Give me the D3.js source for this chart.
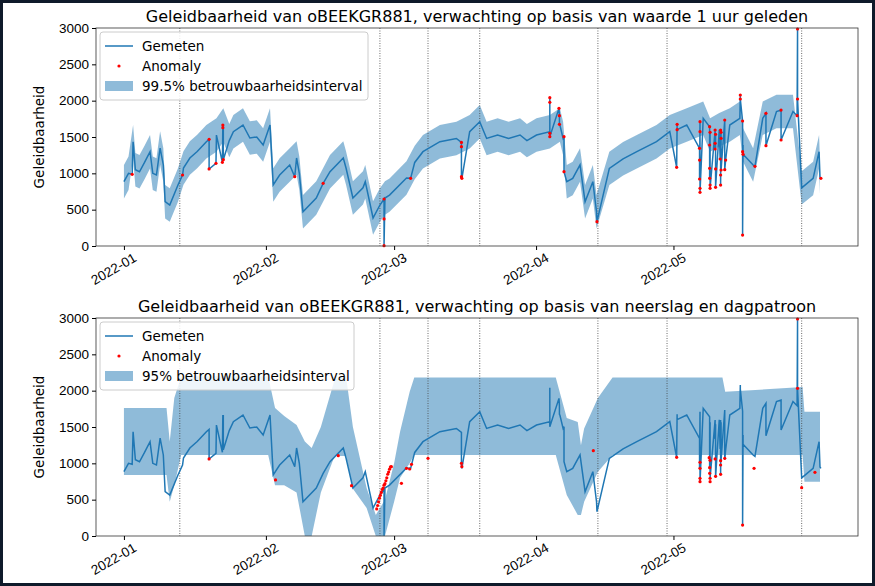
<!DOCTYPE html>
<html>
<head>
<meta charset="utf-8">
<script src="https://cdn.jsdelivr.net/npm/d3@7"></script>
<style>
  body { margin: 0; background: #0f1a2a; }
  svg { display: block; font-family: "DejaVu Sans", sans-serif; }
</style>
</head>
<body>
<svg id="chart" width="875" height="586"></svg>
<script>
// days since 2022-01-01, measured conductivity
const measured = [
  [0,885],[1,1000],[2,1435],[2.5,1050],[3.4,1022],[4.5,1150],[5.7,1298],[6.3,1000],[7.1,977],[7.9,1348],
  [8.6,1115],[9,610],[10,564],[11.8,840],[13,1073],[14.4,1211],[16,1300],[18,1435],[20.2,1527],[21.7,1665],
  [23,1450],[23.9,1573],[26,1665],[27.5,1486],[29,1500],[30.4,1390],[31.9,1665],[32.6,840],[34,977],[36.2,1115],
  [37.7,1211],[38.3,1000],[39.1,472],[42,660],[45,1022],[47.9,1211],[48.5,1073],[50,660],[52.2,800],[52.7,885],
  [54.4,385],[55.9,564],[57,660],[58,700],[61.7,935],[63.5,1150],[65.3,1298],[69,1435],[72.6,1480],[75.5,1573],
  [77.7,1710],[79.2,1480],[81.6,1527],[84,1480],[86.5,1527],[88,1450],[90.1,1527],[93,1573],[95.2,1665],[95.9,1480],
  [96.7,885],[98,930],[99.6,1115],[100.7,610],[102.4,885],[103.2,472],[106,1068],[109,1200],[112,1298],[116.3,1435],
  [119.2,1573],[122.9,1665],[126.5,1757],[128,1527],[130,1600],[132.3,1665],[134.5,1757],[135.2,1390],[137.4,1115],
  [139.5,1757],[142.5,1850],[146.1,1850],[148,800],[150.5,930],[151.8,1298],[152,950]
];

const anomaliesTop = [
  [1.8,987],[12.8,977],[18.6,1468],[18.6,1060],[20.1,1138],[21.5,1151],[21.6,1665],[21.6,1628],[21.7,1188],
  [37.3,954],[43.5,862],[56.8,647],[56.8,372],[56.8,4],[62.6,931],[73.7,1426],[73.7,1367],[73.7,954],[73.8,931],
  [93.0,2041],[93.0,1977],[93.0,1550],[93.0,1504],[95.0,1894],[95.1,1793],[95.1,1674],[96.1,1504],[96.1,1023],
  [103.3,335],[120.8,1674],[120.8,1601],[120.7,1083],[125.8,1711],[125.8,1573],[125.7,1344],[125.7,1183],
  [125.7,922],[125.8,794],[125.8,739],[127.9,1642],[128.0,1564],[127.9,1390],[127.9,1069],[127.9,931],
  [128.0,839],[128.0,794],[129.1,1596],[129.2,1537],[129.1,1413],[129.1,1335],[129.2,1060],[129.2,807],
  [130.3,1596],[130.4,1564],[130.4,1482],[130.2,1197],[130.4,1046],[130.3,977],[130.3,839],[131.2,1734],
  [131.4,1183],[131.2,1050],[134.6,2078],[134.6,2023],[135.1,1720],[135.1,1298],[135.2,1262],[135.1,151],
  [137.8,1096],[140.2,1826],[140.2,1380],[143.5,1871],[143.5,1459],[147.1,2986],[147.1,2023],[147.0,1793],
  [152.2,931]
];

const anomaliesBottom = [
  [18.6,1060],[33.1,771],[46.8,1105],[49.7,692],
  [55.2,372],[55.4,420],[55.6,470],[55.8,520],[56.0,560],[56.2,600],[56.4,640],[56.6,660],[56.8,700],
  [57.0,720],[57.2,760],[57.4,800],[57.6,850],[57.8,880],[58.0,920],[58.2,950],[58.4,954],
  [60.6,725],[61.7,931],[62.4,922],[62.8,986],[66.4,1069],[73.7,1000],[73.8,954],
  [102.5,1174],[120.7,1083],[125.8,1014],[125.8,931],[125.8,794],[125.8,748],[127.8,1078],[128.0,1041],
  [127.9,940],[127.9,862],[128.0,794],[128.0,748],[129.1,1060],[129.2,821],[130.3,1037],[130.3,977],
  [130.3,849],[131.2,1069],[135.1,151],[137.6,931],[147.1,2986],[147.1,2032],[148.0,665],[150.9,876]
];

// 95% interval of the rain/day-pattern model: [day, lower, upper]
const bandBottom = [
  [0,840,1760],[9.3,840,1760],[10,472,1300],[11,700,1900],[12.5,1115,2200],[31.5,1115,2200],
  [33,700,1760],[35,700,1650],[37.7,600,1527],[39.5,0,1300],[41,0,1210],[43,600,1500],[46,1100,2150],
  [48.5,1100,2200],[50,650,1500],[53,385,660],[55,0,290],[57,0,500],[59,470,1000],[60.3,800,1435],
  [62.4,1000,1985],[63.4,1115,2180],[94.3,1115,2180],[96.7,564,1624],[99.1,290,1570],[99.8,290,1250],
  [100.5,472,1480],[103.5,885,1900],[106.7,1115,2180],[130.7,1115,2180],[131.3,1115,1985],
  [148.2,1115,2050],[148.6,747,1710],[152,747,1710]
];

const changeDays = [12.2, 55.9, 66.4, 77.7, 103.5, 118.6, 148];
const yTicks = [0, 500, 1000, 1500, 2000, 2500, 3000];
const topHalfWidth = 230;

const t0 = Date.UTC(2022, 0, 1);
const toDate = d => new Date(t0 + d * 864e5);

const svg = d3.select("#chart");
svg.append("rect").attr("x", 3).attr("y", 3).attr("width", 869).attr("height", 580).attr("fill", "#fff");

const x = d3.scaleUtc().domain([toDate(-6.1), toDate(160.3)]).range([96, 858]);
const blue = "#1f77b4";

function panel(top, title, legendBand, lineData, band, anomalies, legendW) {
  const y = d3.scaleLinear().domain([0, 3000]).range([top + 218, top]);
  const g = svg.append("g");

  g.append("path").datum(band)
    .attr("fill", blue).attr("fill-opacity", 0.5)
    .attr("d", d3.area().x(d => x(toDate(d[0]))).y0(d => y(Math.max(0, d[1]))).y1(d => y(Math.min(3000, d[2]))));

  g.selectAll(".vl").data(changeDays).join("line")
    .attr("x1", d => x(toDate(d))).attr("x2", d => x(toDate(d)))
    .attr("y1", top).attr("y2", top + 218)
    .attr("stroke", "#444").attr("stroke-width", 0.8).attr("stroke-dasharray", "1,1.5");

  g.append("path").datum(lineData)
    .attr("fill", "none").attr("stroke", blue).attr("stroke-width", 1.5)
    .attr("d", d3.line().x(d => x(toDate(d[0]))).y(d => y(d[1])));

  g.selectAll(".an").data(anomalies).join("circle")
    .attr("cx", d => x(toDate(d[0]))).attr("cy", d => y(d[1])).attr("r", 1.6).attr("fill", "red");

  g.append("rect").attr("x", 96).attr("y", top).attr("width", 762).attr("height", 218)
    .attr("fill", "none").attr("stroke", "#333").attr("stroke-width", 0.8);

  const xa = g.append("g").attr("transform", `translate(0,${top + 218})`)
    .call(d3.axisBottom(x).tickValues([0, 1, 2, 3, 4].map(m => new Date(Date.UTC(2022, m, 1))))
      .tickFormat(d3.utcFormat("%Y-%m")).tickSizeOuter(0).tickSize(4));
  xa.select(".domain").remove();
  xa.selectAll("text").attr("font-size", 13.5).attr("fill", "#000")
    .attr("text-anchor", "end").attr("dx", "0.3em").attr("dy", "0.9em")
    .attr("transform", "rotate(-30)");

  const ya = g.append("g").attr("transform", "translate(96,0)")
    .call(d3.axisLeft(y).tickValues(yTicks).tickFormat(d3.format("d")).tickSize(4).tickSizeOuter(0));
  ya.select(".domain").remove();
  ya.selectAll("text").attr("font-size", 13.5).attr("fill", "#000");

  g.append("text").attr("transform", `translate(44,${top + 109}) rotate(-90)`)
    .attr("text-anchor", "middle").attr("font-size", 13.5).text("Geleidbaarheid");
  g.append("text").attr("x", 477).attr("y", top - 6).attr("text-anchor", "middle")
    .attr("font-size", 16).text(title);

  const lg = g.append("g").attr("transform", `translate(100,${top + 4})`);
  lg.append("rect").attr("width", legendW).attr("height", 68).attr("rx", 3)
    .attr("fill", "#fff").attr("fill-opacity", 0.85).attr("stroke", "#ccc");
  lg.append("line").attr("x1", 5).attr("x2", 33).attr("y1", 14).attr("y2", 14).attr("stroke", blue).attr("stroke-width", 1.5);
  lg.append("circle").attr("cx", 19).attr("cy", 34).attr("r", 1.6).attr("fill", "red");
  lg.append("rect").attr("x", 5).attr("y", 49).attr("width", 28).attr("height", 10).attr("fill", blue).attr("fill-opacity", 0.5);
  [["Gemeten", 19], ["Anomaly", 39], [legendBand, 59]].forEach(([t, yy]) =>
    lg.append("text").attr("x", 42).attr("y", yy).attr("font-size", 13.5).text(t));
}

const lineTop = measured.concat(anomaliesTop).sort((a, b) => a[0] - b[0]);
const bandTop = measured.map(d => [d[0], d[1] - topHalfWidth, d[1] + topHalfWidth]);

panel(28, "Geleidbaarheid van oBEEKGR881, verwachting op basis van waarde 1 uur geleden",
  "99.5% betrouwbaarheidsinterval", lineTop, bandTop, anomaliesTop, 268);
panel(318, "Geleidbaarheid van oBEEKGR881, verwachting op basis van neerslag en dagpatroon",
  "95% betrouwbaarheidsinterval", lineTop, bandBottom, anomaliesBottom, 254);
</script>
</body>
</html>
